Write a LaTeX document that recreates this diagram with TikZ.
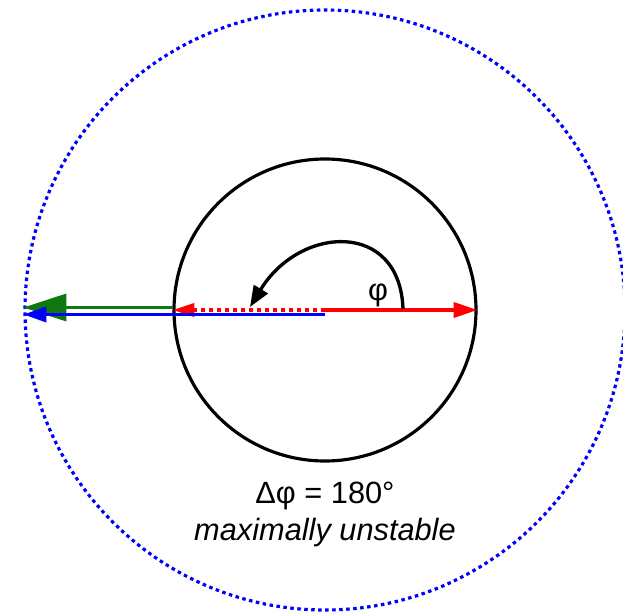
\documentclass[tikz,border=0pt]{standalone}
\usepackage{fontspec}
\setmainfont{Liberation Sans}
\usepackage{tikz}
\usetikzlibrary{arrows.meta, positioning}
\definecolor{vred}{RGB}{255,0,0}
\definecolor{vgreen}{RGB}{16,120,16}
\definecolor{vblue}{RGB}{0,0,255}

\begin{document}
\begin{tikzpicture}[
    ring/.style={draw, circle, inner sep=0pt, line width=1.8pt},
    vec/.style={line width=2.1pt},
    lbl/.style={font=\fontsize{17.5}{21}\selectfont, inner sep=1pt},
]
    \useasboundingbox (0,0) rectangle (12.46,-12.26);
    \coordinate (o) at (6.5,-6.2);

    \node[ring, minimum size=6.04cm] (inner) at (o) {};
    \node[ring, vblue, minimum size=12cm, dash pattern=on 0.07cm off 0.07cm] (outer) at (o) {};

    % the two vectors and their sum
    \draw[vec, vred, -{Triangle[length=0.48cm, width=0.3cm]}] (o) -- (inner.east);
    \draw[vec, vred, dash pattern=on 0.08cm off 0.08cm, -{Triangle[length=0.44cm, width=0.26cm]}]
        (o) -- (inner.west);
    \draw[vec, vgreen, -{Triangle[length=0.86cm, width=0.54cm]}]
        ([yshift=0.05cm]inner.west) -- ([yshift=0.05cm]outer.west);
    \draw[vec, vblue, -{Triangle[length=0.46cm, width=0.3cm]}]
        ([yshift=-0.09cm]o) -- ([yshift=-0.09cm]outer.west);

    % phase angle
    \coordinate (phistart) at ([shift={(1.56,0.02)}]o);
    \coordinate (phiend) at ([shift={(-1.5,0.06)}]o);
    \draw[line width=1.9pt, -{Triangle[length=0.42cm, width=0.32cm]}]
        (phistart) .. controls ([shift={(1.5,1.8)}]o) and ([shift={(-0.5,1.7)}]o) .. (phiend);
    \node[lbl] (phi) at ([shift={(1.06,0.3)}]o) {φ};

    \node[lbl, below=0.35cm of inner] (dphi) {Δφ = 180°};
    \node[lbl, below=0.08cm of dphi] (unstable) {\itshape maximally unstable};
\end{tikzpicture}
\end{document}
